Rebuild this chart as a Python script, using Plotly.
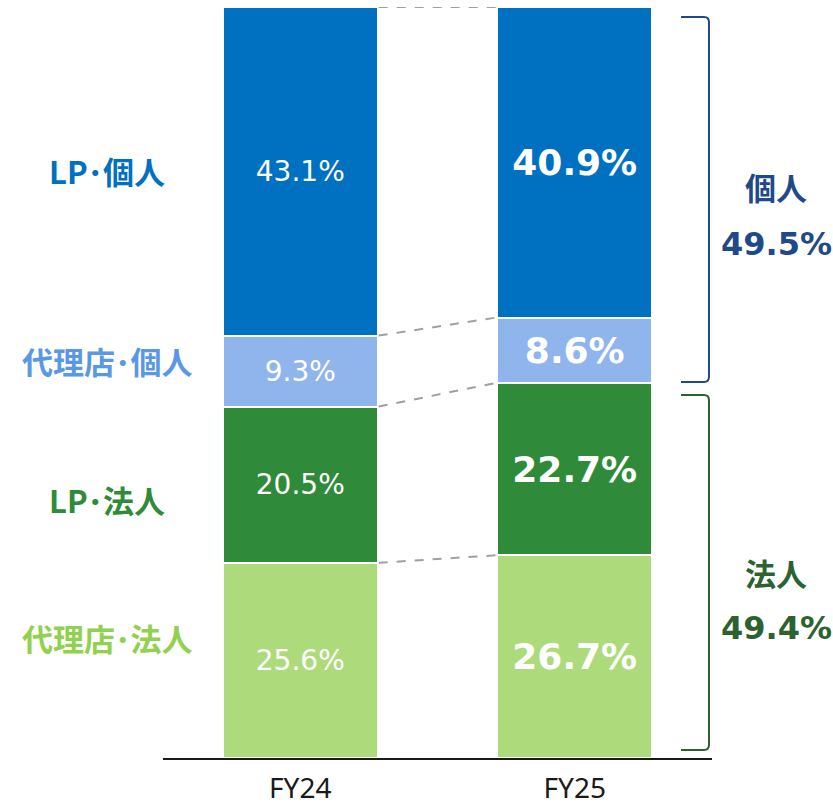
import plotly.graph_objects as go

# ---- data ----
categories = ["FY24", "FY25"]
segment_names = ["代理店･法人", "LP･法人", "代理店･個人", "LP･個人"]  # bottom -> top
dairiten_hojin = [25.6, 26.7]
lp_hojin = [20.5, 22.7]
dairiten_kojin = [9.3, 8.6]
lp_kojin = [43.1, 40.9]
kojin_total_label = "49.5%"
hojin_total_label = "49.4%"

series = [dairiten_hojin, lp_hojin, dairiten_kojin, lp_kojin]
bar_colors = ["#ADDB7B", "#2F8B3A", "#8FB5EC", "#0070C0"]
label_colors = ["#92D050", "#2F8B37", "#5B98E4", "#0070C0"]

xs = [0, 1]
bar_w = 0.5636

fig = go.Figure()
for name, vals, col in zip(segment_names, series, bar_colors):
    fig.add_trace(go.Bar(
        x=xs, y=vals, name=name, width=bar_w,
        marker=dict(color=col, line=dict(color="white", width=2)),
        text=[f"{vals[0]:.1f}%", f"<b>{vals[1]:.1f}%</b>"],
        textposition="inside", insidetextanchor="middle", textangle=0,
        constraintext="none",
        textfont=dict(family="DejaVu Sans", size=[28, 36], color="white"),
        hoverinfo="skip", showlegend=False,
    ))

# dashed connectors between the normalised segment boundaries
totals = [sum(s[i] for s in series) for i in range(2)]
cum = [0.0, 0.0]
bounds = []
for s in series:
    cum = [cum[i] + s[i] for i in range(2)]
    bounds.append([cum[i] / totals[i] * 100 for i in range(2)])
for b in bounds:
    fig.add_trace(go.Scatter(
        x=[bar_w / 2 + 0.004, 1 - bar_w / 2 - 0.004], y=b, mode="lines",
        line=dict(color="#A0A0A0", width=2, dash="dash"),
        hoverinfo="skip", showlegend=False, cliponaxis=False,
    ))

# brackets (FY25 groups)
def bracket(yt, yb, color):
    x0, x1 = 1.387, 1.489
    rx, ry = 0.018, 0.7
    path = (f"M {x0},{yt} L {x1-rx},{yt} Q {x1},{yt} {x1},{yt-ry} "
            f"L {x1},{yb+ry} Q {x1},{yb} {x1-rx},{yb} L {x0},{yb}")
    fig.add_shape(type="path", path=path, xref="x", yref="y",
                  line=dict(color=color, width=2))

bracket(98.67, 50.07, "#1F4A8A")
bracket(48.34, 1.07, "#2B6230")

# left labels
left_pos = [637, 499, 360, 170]
for name, col, py in zip(segment_names, label_colors, left_pos):
    fig.add_annotation(x=(107 - 163) / 549, y=(758 - py) / 751, xref="paper", yref="paper",
                       xanchor="center", yanchor="middle",
                       text=f"<b>{name}</b>", showarrow=False,
                       font=dict(family="Noto Sans CJK JP", size=31, color=col))

# right labels
rx_p = (776 - 163) / 549
for txt, py, col, fam, sz in [
    ("個人", 187, "#1F4A8A", "Noto Sans CJK JP", 31),
    (kojin_total_label, 244, "#1F4A8A", "DejaVu Sans", 32),
    ("法人", 572, "#2B6230", "Noto Sans CJK JP", 31),
    (hojin_total_label, 628, "#2B6230", "DejaVu Sans", 32),
]:
    fig.add_annotation(x=rx_p, y=(758 - py) / 751, xref="paper", yref="paper",
                       xanchor="center", yanchor="middle",
                       text=f"<b>{txt}</b>", showarrow=False,
                       font=dict(family=fam, size=sz, color=col))

fig.update_layout(
    barmode="stack", barnorm="percent",
    width=833, height=805,
    margin=dict(l=163, r=121, t=7, b=47, autoexpand=False),
    plot_bgcolor="white", paper_bgcolor="white",
    xaxis=dict(range=[-0.5, 1.5], tickvals=xs, ticktext=categories,
               showline=True, linecolor="#1a1a1a", linewidth=1.5,
               showgrid=False, zeroline=False, ticks="", ticklabelstandoff=5,
               tickfont=dict(family="Noto Sans", size=28, color="#1a1a1a")),
    yaxis=dict(range=[0, 100], visible=False, showgrid=False, zeroline=False),
)

fig.write_html("out.html", config={"displayModeBar": False},
               post_script="document.body.style.margin='0px';document.body.style.overflow='hidden';")
